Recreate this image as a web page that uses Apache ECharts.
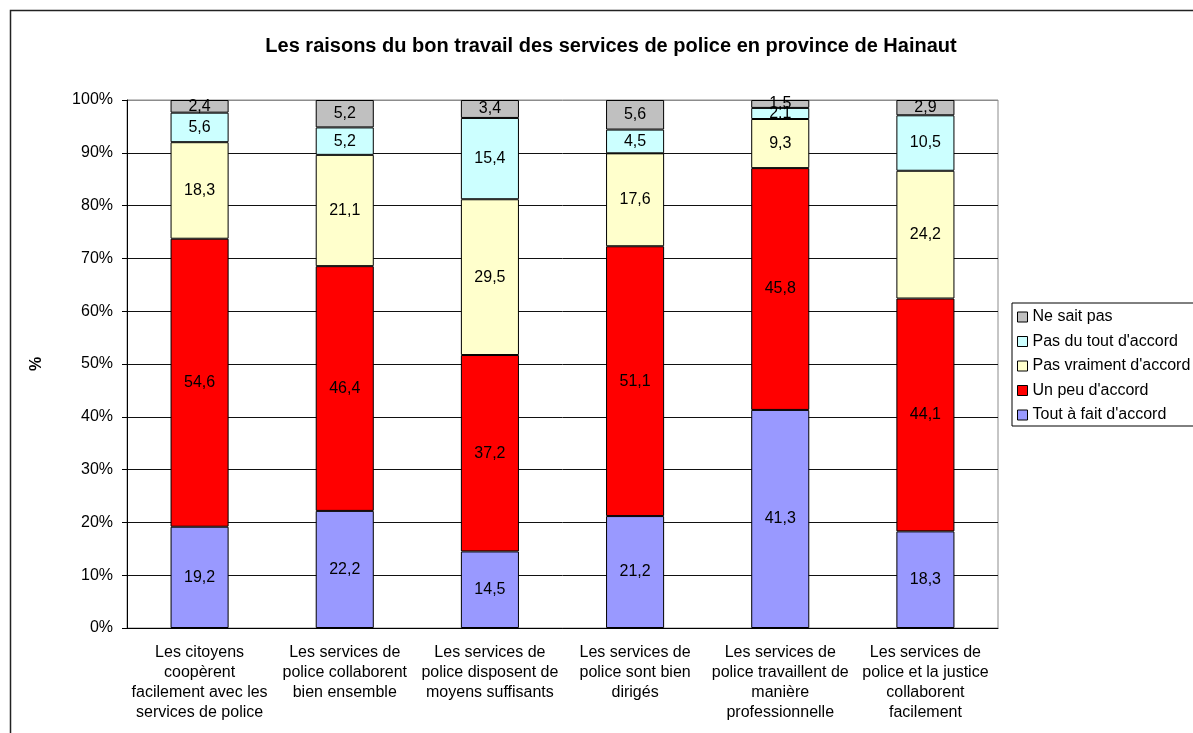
<!DOCTYPE html>
<html>
<head>
<meta charset="utf-8">
<script src="https://cdn.jsdelivr.net/npm/echarts@6/dist/echarts.min.js"></script>
<style>
html, body { margin: 0; padding: 0; background: #fff; }
#chart { width: 1193px; height: 733px; }
</style>
</head>
<body>
<div id="chart"></div>
<script>
// categories (x axis), wrapped like the original
const categories = [
    "Les citoyens\ncoopèrent\nfacilement avec les\nservices de police",
    "Les services de\npolice collaborent\nbien ensemble",
    "Les services de\npolice disposent de\nmoyens suffisants",
    "Les services de\npolice sont bien\ndirigés",
    "Les services de\npolice travaillent de\nmanière\nprofessionnelle",
    "Les services de\npolice et la justice\ncollaborent\nfacilement",
]

// series values (%), bottom to top
const toutAFait = [ 19.2, 22.2, 14.5, 21.2, 41.3, 18.3 ]
const unPeu = [ 54.6, 46.4, 37.2, 51.1, 45.8, 44.1 ]
const pasVraiment = [ 18.3, 21.1, 29.5, 17.6, 9.3, 24.2 ]
const pasDuTout = [ 5.6, 5.2, 15.4, 4.5, 2.1, 10.5 ]
const neSaitPas = [ 2.4, 5.2, 3.4, 5.6, 1.5, 2.9 ]

const seriesNames = [ "Tout à fait d'accord", "Un peu d'accord", "Pas vraiment d'accord", "Pas du tout d'accord", "Ne sait pas" ]
const seriesValues = [ toutAFait, unPeu, pasVraiment, pasDuTout, neSaitPas ]
const colors = [ "#9999ff", "#ff0000", "#ffffcc", "#ccffff", "#c0c0c0" ]

const font = "'Liberation Sans', Arial, sans-serif"

// 100% stacked: scale each column to its total
const totals = categories.map((c, i) => seriesValues.reduce((s, arr) => s + arr[i], 0))

const chart = echarts.init(document.getElementById("chart"), null, { renderer: "canvas" })

const series = seriesNames.map((name, k) => ({
    name: name,
    type: "bar",
    stack: "total",
    barWidth: "40%",
    data: seriesValues[k].map((v, i) => v / totals[i] * 100),
    itemStyle: { color: colors[k], borderColor: "#000", borderWidth: 1 },
    label: {
        show: true,
        position: "inside",
        color: "#000",
        fontFamily: font,
        fontSize: 16,
        formatter: p => String(seriesValues[k][p.dataIndex]).replace(".", ","),
    },
    emphasis: { disabled: true },
}))

const splitColors = []
for (let i = 0; i < 10; i++) splitColors.push("#111")
splitColors.push("#8c8c8c")

chart.setOption({
    animation: false,
    title: {
        text: "Les raisons du bon travail des services de police en province de Hainaut",
        left: 606,
        top: 31,
        textAlign: "center",
        textStyle: { fontFamily: font, fontSize: 20, fontWeight: "bold", color: "#000" },
    },
    grid: {
        left: 127,
        right: 195,
        top: 100,
        bottom: 105,
        show: true,
        borderColor: "#8c8c8c",
        borderWidth: 1,
    },
    legend: {
        orient: "vertical",
        left: 1012,
        top: 303,
        data: seriesNames.slice().reverse(),
        icon: "rect",
        itemWidth: 10,
        itemHeight: 10,
        itemGap: 8.5,
        padding: [ 6, 30, 3, 5 ],
        borderColor: "#000",
        borderWidth: 1,
        selectedMode: false,
        itemStyle: { borderColor: "#000", borderWidth: 1 },
        textStyle: { fontFamily: font, fontSize: 16, color: "#000" },
    },
    xAxis: {
        type: "category",
        data: categories,
        axisLine: { lineStyle: { color: "#000" } },
        axisTick: { length: 6, lineStyle: { color: "#000" } },
        axisLabel: {
            interval: 0,
            margin: 15,
            color: "#000",
            fontFamily: font,
            fontSize: 16,
            lineHeight: 20,
        },
    },
    yAxis: {
        type: "value",
        min: 0,
        max: 100,
        interval: 10,
        name: "%",
        nameLocation: "middle",
        nameGap: 82,
        nameTextStyle: { fontFamily: font, fontSize: 16, fontWeight: "bold", color: "#000" },
        axisLine: { show: true, lineStyle: { color: "#000" } },
        axisTick: { show: true, length: 5, lineStyle: { color: "#000" } },
        axisLabel: { formatter: "{value}%", margin: 14, color: "#000", fontFamily: font, fontSize: 16 },
        splitLine: { lineStyle: { color: splitColors, width: 1 } },
    },
    graphic: [{
        type: "rect",
        shape: { x: 10.5, y: 10.5, width: 1200, height: 740 },
        style: { fill: null, stroke: "#222", lineWidth: 1.5 },
        silent: true,
    }],
    series: series,
})
</script>
</body>
</html>
